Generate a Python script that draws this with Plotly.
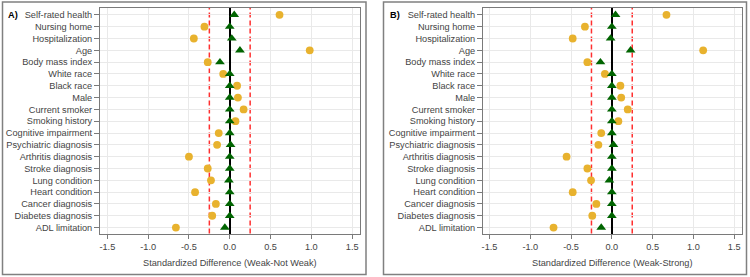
import plotly.graph_objects as go

W, H = 750, 277

categories = [
    "Self-rated health", "Nursing home", "Hospitalization", "Age", "Body mass index",
    "White race", "Black race", "Male", "Current smoker", "Smoking history",
    "Cognitive impairment", "Psychiatric diagnosis", "Arthritis diagnosis",
    "Stroke diagnosis", "Lung condition", "Heart condition", "Cancer diagnosis",
    "Diabetes diagnosis", "ADL limitation",
]
# Panel A (Weak - Not Weak)
a_before = [0.61, -0.31, -0.44, 0.98, -0.27, -0.08, 0.09, 0.10, 0.17, 0.07,
            -0.135, -0.155, -0.50, -0.27, -0.23, -0.425, -0.17, -0.215, -0.66]
a_after = [0.055, 0.0, 0.025, 0.125, -0.12, 0.0, 0.0, 0.0, 0.0, 0.0,
           0.0, 0.01, 0.0, 0.0, -0.01, 0.0, 0.0, 0.0, -0.06]
# Panel B (Weak - Strong)
b_before = [0.67, -0.33, -0.48, 1.12, -0.30, -0.085, 0.105, 0.115, 0.195, 0.08,
            -0.13, -0.165, -0.555, -0.30, -0.255, -0.48, -0.19, -0.24, -0.715]
b_after = [0.045, 0.0, -0.015, 0.23, -0.14, 0.0, 0.0, 0.0, 0.0, 0.0,
           0.0, 0.02, 0.0, 0.0, -0.03, 0.0, 0.0, 0.0, -0.13]

x_ticks = [-1.5, -1.0, -0.5, 0.0, 0.5, 1.0, 1.5]
x_ticktext = ["-1.5", "-1.0", "-0.5", "0.0", "0.5", "1.0", "1.5"]
threshold_lines = [-0.25, 0.25]
panel_labels = ["A)", "B)"]
x_titles = ["Standardized Difference (Weak-Not Weak)", "Standardized Difference (Weak-Strong)"]

ORANGE = "#E8B22E"
GREEN = "#006400"
FONT = "Liberation Sans, Arial, sans-serif"
TXT = "#444444"
FS = 9.2

def px_x(p):
    return p / W

def px_y(p):
    return 1 - p / H

fig = go.Figure()

panels = [
    dict(before=a_before, after=a_after, xa="x", ya="y", dom=(100, 359.5), xr=[-1.59, 1.59],
         box=(2.5, 366, 2, 274.5), lab_x=13.5),
    dict(before=b_before, after=b_after, xa="x2", ya="y2", dom=(483, 741.5), xr=[-1.58, 1.59],
         box=(383.5, 746.5, 2, 274.5), lab_x=394.5),
]

ydom = [px_y(233.5), px_y(8)]

for i, p in enumerate(panels):
    fig.add_trace(go.Scatter(
        x=p["before"], y=categories, mode="markers", xaxis=p["xa"], yaxis=p["ya"],
        marker=dict(symbol="circle", size=7.8, color=ORANGE, line=dict(width=0)),
        showlegend=False, cliponaxis=False))
    fig.add_trace(go.Scatter(
        x=p["after"], y=categories, mode="markers", xaxis=p["xa"], yaxis=p["ya"],
        marker=dict(symbol="triangle-up", size=8.5, color=GREEN, line=dict(width=0)),
        showlegend=False, cliponaxis=False))

    axis_common = dict(showline=True, linecolor="#7a7a7a", linewidth=1, mirror=True,
                       ticks="outside", tickcolor="#7a7a7a", ticklen=4,
                       showgrid=True, gridcolor="#e9e9e9", gridwidth=1, zeroline=False,
                       automargin=False,
                       tickfont=dict(family=FONT, size=FS, color=TXT))
    xkey = "xaxis" if i == 0 else "xaxis2"
    ykey = "yaxis" if i == 0 else "yaxis2"
    fig.update_layout(**{
        xkey: dict(axis_common, domain=[px_x(p["dom"][0]), px_x(p["dom"][1])], range=p["xr"],
                   anchor=p["ya"], tickmode="array", tickvals=x_ticks, ticktext=x_ticktext,
                   zeroline=True, zerolinecolor="black", zerolinewidth=1.6, ticklen=4),
        ykey: dict(axis_common, domain=ydom, anchor=p["xa"], type="category",
                   categoryorder="array", categoryarray=categories,
                   tickmode="array", tickvals=categories, ticktext=categories,
                   range=[len(categories) - 0.5, -0.58], ticklen=5),
    })

    xref = p["xa"]
    yref = p["ya"] + " domain"
    for t in threshold_lines:
        fig.add_shape(type="line", xref=xref, yref=yref, x0=t, x1=t, y0=0, y1=1,
                      line=dict(color="#ff3030", width=1.5, dash="5px,3px"), layer="below")

    b = p["box"]
    fig.add_shape(type="rect", xref="paper", yref="paper",
                  x0=px_x(b[0]), x1=px_x(b[1]), y0=px_y(b[3]), y1=px_y(b[2]),
                  line=dict(color="#808080", width=1.5), fillcolor="rgba(0,0,0,0)")
    fig.add_annotation(x=px_x(p["lab_x"]), y=px_y(15.3), xref="paper", yref="paper",
                       text="<b>" + panel_labels[i] + "</b>", showarrow=False,
                       font=dict(family=FONT, size=FS, color="black"),
                       xanchor="center", yanchor="middle")
    fig.add_annotation(x=(p["dom"][0] + p["dom"][1]) / 2 / W, y=px_y(262.7),
                       xref="paper", yref="paper", text=x_titles[i], showarrow=False,
                       font=dict(family=FONT, size=FS, color=TXT),
                       xanchor="center", yanchor="middle")

fig.update_layout(width=W, height=H, margin=dict(l=0, r=0, t=0, b=0),
                  paper_bgcolor="white", plot_bgcolor="white",
                  font=dict(family=FONT, size=FS, color=TXT))

fig.write_html("out.html", config={"displayModeBar": False},
               post_script="document.body.style.margin='0';")
